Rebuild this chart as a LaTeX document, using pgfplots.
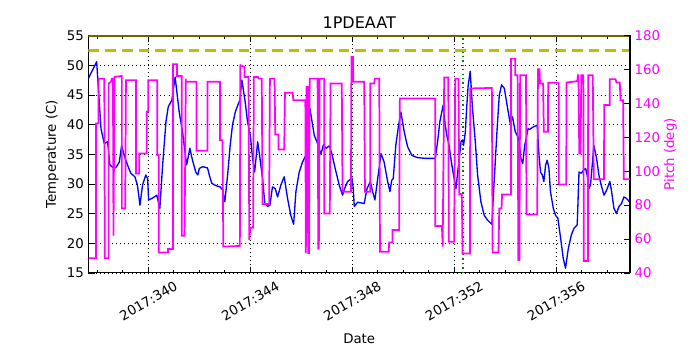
\documentclass[border=0pt]{standalone}
\usepackage{fontspec}
\setmainfont{DejaVu Sans}
\usepackage{pgfplots}
\pgfplotsset{compat=1.18}
\definecolor{mplblue}{rgb}{0,0,1}
\definecolor{mplmag}{rgb}{1,0,1}
\definecolor{mplyel}{rgb}{0.75,0.75,0}
\definecolor{mplgreen}{rgb}{0,0.5,0}
\newcommand{\tickfont}{\fontsize{10}{12}\selectfont}

\begin{document}
\begin{tikzpicture}
\path[use as bounding box] (0,0) rectangle (525pt,262.5pt);
% temperature axis (left)
\begin{axis}[
  at={(66.375pt,57.825pt)}, anchor=south west,
  scale only axis, width=406.1pt, height=178pt,
  xmin=337.65, xmax=358.9, ymin=15, ymax=55,
  xtick={340,344,348,352,356},
  xticklabels={2017:340,2017:344,2017:348,2017:352,2017:356},
  minor xtick={338,339,341,342,343,345,346,347,349,350,351,353,354,355,357,358},
  ytick={15,20,...,55},
  ytick pos=left, xtick pos=both,
  tick align=inside,
  major tick length=4.5pt, minor tick length=2.5pt,
  xmajorgrids, ymajorgrids,
  grid style={black, line width=0.5pt, dash pattern=on 0.6pt off 2.4pt},
  axis line style={line width=0.8pt},
  tick style={black, line width=0.6pt},
  % shift is applied in the rotated frame: (-d sin30, -d cos30) gives straight down by d
  xticklabel style={font=\tickfont, anchor=center, rotate=30, xshift=-10.5pt, yshift=-18.2pt},
  yticklabel style={font=\tickfont},
  /pgf/number format/assume math mode=true,
]
\addplot[mplyel!55!black, line width=1.4pt, forget plot] coordinates {(337.65,55)(358.9,55)};
\addplot[mplyel, line width=2.2pt, dash pattern=on 8pt off 4.5pt] coordinates {(337.65,52.5)(358.9,52.5)};
\addplot[mplgreen, line width=1.1pt, dash pattern=on 1pt off 2.3pt] coordinates {(352.355,15)(352.355,55)};
\addplot[mplblue, line width=1pt, line join=round] coordinates {
(337.65,47.8)(337.97,50.6)(338.14,39.3)(338.27,36.8)(338.40,37.1)(338.49,33.2)(338.57,32.9)(338.66,32.6)
(338.75,32.9)(338.86,33.7)(338.95,36.5)(339.05,34.8)(339.18,33.2)(339.31,31.8)(339.47,31.2)(339.57,29.8)
(339.67,26.4)(339.77,29.8)(339.90,31.5)(339.97,30.9)(340.01,27.3)(340.16,27.6)(340.33,28.1)(340.45,25.9)
(340.56,33.2)(340.69,40.5)(340.78,43.0)(340.92,44.1)(341.05,48.0)(341.21,42.1)(341.34,38.8)(341.50,33.2)
(341.63,36.0)(341.73,34.0)(341.86,32.0)(341.94,31.5)
(342.00,32.6)(342.13,32.9)(342.32,32.7)(342.39,31.5)(342.49,30.1)(342.65,29.7)(342.81,29.5)(342.91,29.0)
(343.00,27.0)(343.11,31.5)(343.21,36.5)(343.30,39.9)(343.41,42.1)(343.53,43.5)(343.59,44.1)(343.67,47.5)
(343.80,43.8)(343.89,40.5)(344.00,38.2)(344.09,34.3)(344.17,32.0)(344.29,37.1)(344.38,34.3)(344.48,30.9)
(344.57,26.7)(344.68,26.2)(344.77,26.4)(344.87,29.5)(344.98,29.2)(345.07,27.8)(345.20,29.8)(345.33,31.2)
(345.46,27.6)(345.59,24.7)(345.70,23.2)(345.79,28.7)(345.92,32.0)(346.05,33.7)(346.18,34.8)
(346.34,42.7)(346.51,38.2)(346.64,36.8)(346.77,35.0)(346.87,36.6)(346.97,36.0)(347.10,36.4)(347.20,35.1)
(347.33,32.6)(347.49,29.8)(347.62,28.1)(347.70,29.2)(347.82,30.4)(347.99,31.0)(348.04,29.2)(348.08,26.2)
(348.21,26.9)(348.34,26.8)(348.47,26.7)(348.58,29.2)(348.71,30.4)(348.80,28.7)(348.89,27.3)(349.00,30.9)
(349.13,35.1)(349.25,33.7)(349.39,30.4)(349.48,28.7)(349.55,30.6)(349.61,30.9)(349.71,36.5)(349.82,39.9)
(349.91,42.1)(350.04,38.8)(350.17,36.3)(350.34,34.8)(350.58,34.4)
(350.63,34.4)(350.89,34.3)(351.26,34.3)(351.35,37.1)(351.44,40.5)(351.57,43.3)(351.65,39.9)(351.71,38.2)
(351.80,36.5)(351.89,33.7)(352.00,30.9)(352.07,29.2)(352.14,32.0)(352.20,34.3)(352.27,37.1)(352.33,37.4)
(352.37,36.5)(352.44,38.8)(352.49,42.7)(352.55,46.6)(352.63,49.0)(352.72,42.7)(352.83,37.1)(352.92,31.5)
(353.05,27.0)(353.18,24.7)(353.31,23.9)(353.48,23.2)(353.57,30.4)(353.68,38.8)(353.77,44.9)(353.86,46.7)
(353.97,46.1)(354.10,42.7)(354.20,40.2)(354.29,41.3)(354.40,38.8)(354.53,37.7)(354.62,34.3)(354.69,33.4)
(354.77,36.5)(354.90,39.3)
(354.97,39.2)(355.10,39.6)(355.26,39.9)(355.33,34.8)(355.39,32.0)(355.46,31.5)(355.52,30.4)(355.59,33.2)
(355.65,34.0)(355.72,32.6)(355.78,28.7)(355.89,25.9)(355.98,24.7)(356.07,24.2)(356.18,20.8)(356.28,17.5)
(356.37,15.8)(356.48,19.1)(356.60,21.4)(356.70,22.5)(356.83,23.1)(356.90,32.0)(356.99,31.8)(357.07,32.3)
(357.16,32.6)(357.22,31.5)(357.29,29.2)(357.35,29.8)(357.42,33.2)(357.48,36.5)(357.59,34.3)(357.68,31.5)
(357.77,29.8)(357.88,28.1)(357.98,28.9)(358.11,30.4)(358.18,28.7)(358.27,25.9)(358.37,25.0)(358.47,26.2)
(358.57,26.7)(358.66,27.8)(358.75,27.6)(358.82,27.3)(358.87,27.0)};
\end{axis}
% pitch axis (right)
\begin{axis}[
  at={(66.375pt,57.825pt)}, anchor=south west,
  scale only axis, width=406.1pt, height=178pt,
  xmin=337.65, xmax=358.9, ymin=40, ymax=180,
  axis x line=none, axis y line*=right,
  ytick={40,60,...,180},
  tick align=inside, major tick length=4.5pt,
  axis line style={line width=0.8pt},
  tick style={black, line width=0.6pt},
  yticklabel style={font=\tickfont, text=mplmag},
  /pgf/number format/assume math mode=true,
]
\addplot[mplmag, line width=1.3pt] coordinates {
(337.65,48.6)(337.94,48.6)(337.94,128.1)(338.04,128.1)(338.04,154.6)(338.27,154.6)(338.29,48.6)(338.44,48.6)
(338.44,151.7)(338.53,152.7)(338.57,154.6)(338.61,154.6)(338.63,62.0)(338.67,155.6)(338.96,156.2)(338.96,78.0)
(339.09,78.0)(339.12,153.7)(339.51,153.7)(339.51,98.7)(339.64,98.7)(339.64,110.5)(339.94,110.5)(339.94,135.0)
(339.99,135.0)(339.99,153.7)(340.35,153.7)(340.35,109.5)(340.41,109.5)(340.41,52.0)(340.77,52.0)(340.77,54.1)
(340.97,54.1)(340.97,163.1)(341.12,163.1)(341.12,156.2)(341.31,156.2)(341.31,61.9)(341.42,61.9)(341.47,154.6)
(341.47,152.7)(341.89,152.7)
(341.89,112.0)(342.32,112.0)(342.32,152.7)(342.81,152.7)(342.81,118.3)(342.91,118.3)(342.94,55.5)(343.59,55.9)
(343.61,162.5)(343.77,161.5)(343.77,155.6)(343.93,155.6)(343.96,59.4)(344.00,66.7)(344.11,66.7)(344.14,155.6)
(344.30,155.6)(344.32,154.6)(344.45,154.6)(344.48,80.6)(344.74,80.6)(344.77,154.6)(344.95,154.6)(344.98,121.6)
(345.11,121.6)(345.11,112.8)(345.33,112.8)(345.36,146.2)(345.66,146.2)(345.69,141.9)(346.16,141.9)(346.18,51.5)
(346.21,149.7)(346.26,149.7)(346.27,51.7)(346.30,51.7)(346.33,154.6)(346.64,154.6)(346.67,54.3)(346.69,54.3)
(346.72,154.6)(346.90,154.6)(346.90,75.1)(347.12,75.1)(347.15,151.7)(347.59,151.7)(347.62,87.9)(347.95,87.9)
(347.97,167.4)(348.03,167.4)(348.04,152.7)(348.47,152.7)(348.50,87.9)(348.71,87.9)(348.71,151.7)(348.86,151.7)
(348.89,154.6)(349.06,154.6)(349.09,52.5)(349.43,52.5)(349.45,58.0)(349.58,58.0)(349.58,65.3)(349.84,65.3)
(349.87,142.9)(351.26,142.9)
(351.26,67.6)(351.52,67.6)(351.55,55.5)(351.61,155.2)(351.77,155.2)(351.79,58.4)(352.00,58.4)(352.04,154.6)
(352.17,154.6)(352.20,86.5)(352.30,86.5)(352.33,51.5)(352.62,51.5)(352.63,148.8)(353.48,149.1)(353.51,52.0)
(353.74,52.0)(353.77,78.0)(353.86,78.0)(353.88,86.3)(354.23,86.3)(354.23,166.4)(354.40,166.4)(354.40,156.6)
(354.49,156.6)(354.52,47.6)(354.56,47.6)(354.59,156.6)(354.82,156.6)(354.84,74.5)
(355.26,74.5)(355.29,160.1)(355.35,160.1)(355.37,151.7)(355.49,151.7)(355.52,123.2)(355.68,123.2)(355.69,152.1)
(356.10,152.1)(356.11,92.2)(356.40,92.2)(356.41,152.3)(356.83,153.1)(356.86,156.6)(356.88,156.6)(356.91,110.5)
(356.96,110.5)(356.99,156.6)(357.07,156.6)(357.09,47.0)(357.25,47.0)(357.26,156.6)(357.44,156.6)(357.48,95.3)
(357.88,95.3)(357.89,139.0)(358.11,139.0)(358.11,154.3)(358.33,154.3)(358.37,152.3)(358.50,152.3)(358.53,141.9)
(358.63,141.9)(358.66,95.3)(358.90,95.3)};
\end{axis}
\node[anchor=base, font=\fontsize{12}{14}\selectfont] at (269.4pt,240.75pt) {1PDEAAT};
\node[anchor=base, font=\fontsize{10}{12}\selectfont] at (269.4pt,5.25pt) {Date};
\node[anchor=base, rotate=90, font=\fontsize{10}{12}\selectfont] at (42pt,146.8pt) {Temperature (C)};
\node[anchor=base, rotate=90, text=mplmag, font=\fontsize{10}{12}\selectfont] at (505.5pt,146.8pt) {Pitch (deg)};
\end{tikzpicture}
\end{document}
